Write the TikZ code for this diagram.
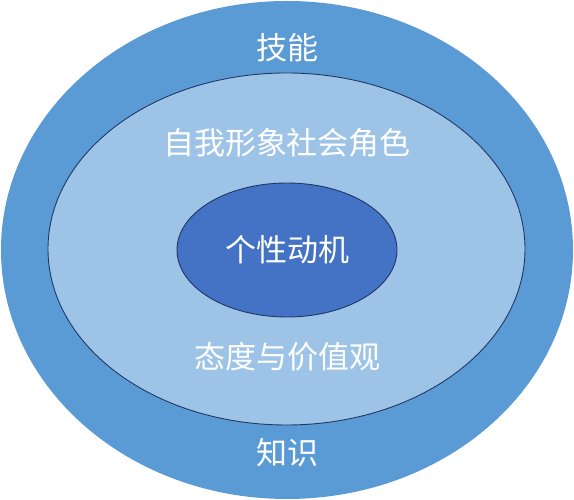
\documentclass[tikz,border=0pt]{standalone}
\usepackage{fontspec}
\newfontfamily\cjk{Noto Sans CJK SC}
\definecolor{outerblue}{HTML}{5B9BD5}
\definecolor{midblue}{HTML}{9DC3E6}
\definecolor{innerblue}{HTML}{4472C4}
\definecolor{edgeblue}{HTML}{203864}
\begin{document}
\begin{tikzpicture}[x=1pt,y=1pt,
  lbl/.style={text=white,font=\cjk\fontsize{31}{34}\selectfont,inner sep=0pt}]
\useasboundingbox (0,0) rectangle (574,500);
\fill[outerblue] (287,250) ellipse [x radius=286,y radius=249];
\filldraw[fill=midblue,draw=edgeblue,line width=0.9pt] (286.5,251) ellipse [x radius=238.5,y radius=176];
\filldraw[fill=innerblue,draw=edgeblue,line width=0.9pt] (287,250) ellipse [x radius=110,y radius=67];
\node[lbl] (skill) at (287,452) {技能};
\node[lbl] (image) at (287,357) {自我形象社会角色};
\node[lbl] (motive) at (287,250) {个性动机};
\node[lbl] (value) at (287,143) {态度与价值观};
\node[lbl] (know) at (287,47) {知识};
\end{tikzpicture}
\end{document}
